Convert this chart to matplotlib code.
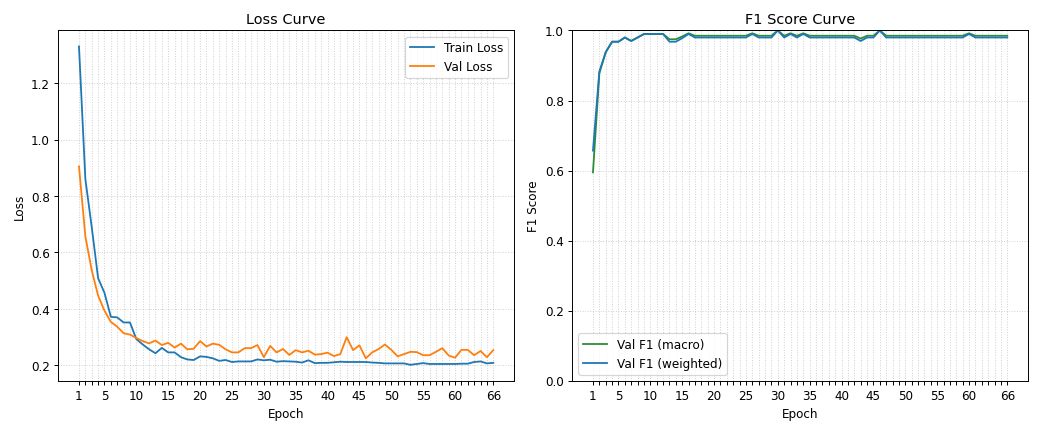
import numpy as np
import matplotlib
matplotlib.use("Agg")
from matplotlib import pyplot as plt

epochs = np.arange(1, 67)

train_loss = [1.33, 0.86, 0.69, 0.509, 0.457, 0.372, 0.37, 0.352, 0.352, 0.293,
              0.274, 0.257, 0.243, 0.262, 0.246, 0.246, 0.229, 0.221, 0.219, 0.232,
              0.230, 0.225, 0.216, 0.219, 0.212, 0.214, 0.214, 0.214, 0.221, 0.218,
              0.220, 0.213, 0.215, 0.214, 0.213, 0.210, 0.218, 0.208, 0.209, 0.209,
              0.211, 0.213, 0.212, 0.212, 0.212, 0.212, 0.210, 0.209, 0.207, 0.207,
              0.207, 0.207, 0.202, 0.205, 0.208, 0.205, 0.205, 0.205, 0.205, 0.205,
              0.206, 0.206, 0.212, 0.214, 0.207, 0.209]

val_loss = [0.905, 0.657, 0.537, 0.447, 0.394, 0.354, 0.337, 0.314, 0.309, 0.297,
            0.286, 0.278, 0.288, 0.272, 0.280, 0.263, 0.277, 0.257, 0.259, 0.286,
            0.267, 0.277, 0.273, 0.257, 0.246, 0.246, 0.261, 0.261, 0.272, 0.229,
            0.269, 0.246, 0.258, 0.237, 0.254, 0.246, 0.252, 0.238, 0.240, 0.245,
            0.233, 0.240, 0.300, 0.254, 0.271, 0.225, 0.246, 0.258, 0.274, 0.255,
            0.232, 0.240, 0.248, 0.247, 0.236, 0.236, 0.248, 0.261, 0.235, 0.227,
            0.255, 0.255, 0.236, 0.251, 0.229, 0.254]

f1_macro = [0.595, 0.878, 0.938, 0.968, 0.968, 0.98, 0.97, 0.98, 0.99, 0.99,
            0.99, 0.99, 0.975, 0.975, 0.983, 0.992, 0.985, 0.985, 0.985, 0.985,
            0.985, 0.985, 0.985, 0.985, 0.985, 0.992, 0.985, 0.985, 0.985, 1.0,
            0.985, 0.992, 0.985, 0.992, 0.985, 0.985, 0.985, 0.985, 0.985, 0.985,
            0.985, 0.985, 0.977, 0.985, 0.985, 1.0, 0.985, 0.985, 0.985, 0.985,
            0.985, 0.985, 0.985, 0.985, 0.985, 0.985, 0.985, 0.985, 0.985, 0.992,
            0.985, 0.985, 0.985, 0.985, 0.985, 0.985]

f1_weighted = [0.657, 0.883, 0.938, 0.968, 0.968, 0.98, 0.97, 0.98, 0.99, 0.99,
               0.99, 0.99, 0.968, 0.968, 0.978, 0.99, 0.98, 0.98, 0.98, 0.98,
               0.98, 0.98, 0.98, 0.98, 0.98, 0.99, 0.98, 0.98, 0.98, 1.0,
               0.98, 0.99, 0.98, 0.99, 0.98, 0.98, 0.98, 0.98, 0.98, 0.98,
               0.98, 0.98, 0.97, 0.98, 0.98, 1.0, 0.98, 0.98, 0.98, 0.98,
               0.98, 0.98, 0.98, 0.98, 0.98, 0.98, 0.98, 0.98, 0.98, 0.99,
               0.98, 0.98, 0.98, 0.98, 0.98, 0.98]

labeled = [1, 5, 10, 15, 20, 25, 30, 35, 40, 45, 50, 55, 60, 66]
tick_text = [str(e) if e in labeled else "" for e in epochs]

fig, (ax1, ax2) = plt.subplots(1, 2, figsize=(12, 5), dpi=86.75)

ax1.plot(epochs, train_loss, color="tab:blue", label="Train Loss")
ax1.plot(epochs, val_loss, color="tab:orange", label="Val Loss")
ax1.set_title("Loss Curve")
ax1.set_xlabel("Epoch")
ax1.set_ylabel("Loss")
ax1.legend(loc="upper right")

ax2.plot(epochs, f1_macro, color="#2e8b3a", label="Val F1 (macro)")
ax2.plot(epochs, f1_weighted, color="tab:blue", label="Val F1 (weighted)")
ax2.set_title("F1 Score Curve")
ax2.set_xlabel("Epoch")
ax2.set_ylabel("F1 Score")
ax2.set_ylim(0, 1.0)
ax2.legend(loc="lower left")

for ax in (ax1, ax2):
    ax.set_xticks(epochs)
    ax.set_xticklabels(tick_text)
    ax.grid(True, linestyle=":", linewidth=0.8, alpha=0.6)

plt.tight_layout()
plt.savefig("out.png")
